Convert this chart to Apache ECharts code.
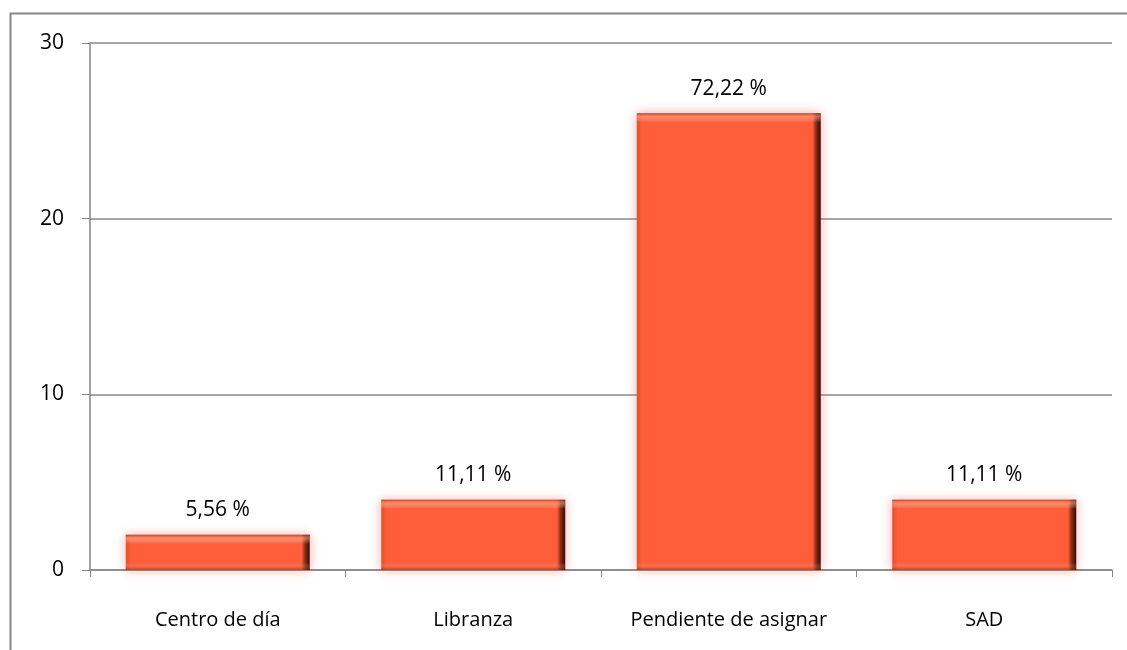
<!DOCTYPE html>
<html>
<head>
<meta charset="utf-8">
<script src="https://cdn.jsdelivr.net/npm/echarts@6/dist/echarts.min.js"></script>
<style>
  html, body { margin: 0; padding: 0; background: #fff; }
  #chart { width: 1127px; height: 650px; }
</style>
</head>
<body>
<div id="chart"></div>
<script>
const categories = ['Centro de día', 'Libranza', 'Pendiente de asignar', 'SAD']
const counts = [2, 4, 26, 4]
const yTicks = [0, 10, 20, 30]

const total = counts.reduce((a, b) => a + b, 0)
const pct = v => (v / total * 100).toFixed(2).replace('.', ',') + ' %'

const chart = echarts.init(document.getElementById('chart'))
const font = '"Open Sans", "Noto Sans", sans-serif'

// rough px per unit, only used to keep the bevel bands a fixed pixel size
const pxPerUnit = 527 / 30
const bevel = v => {
  const h = v * pxPerUnit
  const a = 3 / h, b = 9 / h, c = 1 - 7 / h
  return {
    type: 'linear', x: 0, y: 0, x2: 0, y2: 1,
    colorStops: [
      { offset: 0, color: 'rgba(190, 50, 20, 0.7)' },
      { offset: a, color: 'rgba(255, 170, 130, 0.55)' },
      { offset: b, color: 'rgba(255, 255, 255, 0)' },
      { offset: c, color: 'rgba(255, 255, 255, 0)' },
      { offset: 1, color: 'rgba(110, 30, 10, 0.5)' }
    ]
  }
}

chart.setOption({
  animation: false,
  graphic: [{
    type: 'rect',
    shape: { x: 10.5, y: 13.5, width: 1200, height: 700 },
    style: { fill: 'none', stroke: '#868686', lineWidth: 2 },
    silent: true
  }],
  grid: { left: 90, right: 15, top: 43, bottom: 80 },
  xAxis: {
    type: 'category',
    data: categories,
    axisLine: { lineStyle: { color: '#868686', width: 1.5 } },
    axisTick: { show: true, interval: 0, length: 7, lineStyle: { color: '#868686' } },
    axisLabel: { interval: 0, margin: 40, color: '#000', fontFamily: font, fontSize: 20 }
  },
  yAxis: {
    type: 'value',
    min: yTicks[0],
    max: yTicks[yTicks.length - 1],
    interval: 10,
    axisLine: { show: true, lineStyle: { color: '#868686', width: 1.5 } },
    axisTick: { show: true, length: 8, lineStyle: { color: '#868686' } },
    axisLabel: { margin: 26, color: '#000', fontFamily: font, fontSize: 21 },
    splitLine: { lineStyle: { color: '#8a8a8a', width: 1.5 } }
  },
  series: [
    {
      type: 'bar',
      data: counts,
      barWidth: '72%',
      itemStyle: {
        color: {
          type: 'linear', x: 0, y: 0, x2: 1, y2: 0,
          colorStops: [
            { offset: 0, color: '#e0502c' },
            { offset: 0.03, color: '#ff5e3a' },
            { offset: 0.955, color: '#ff5e3a' },
            { offset: 0.975, color: '#8a2a14' },
            { offset: 1, color: '#2e0e06' }
          ]
        },
        shadowBlur: 10,
        shadowColor: 'rgba(255, 60, 60, 0.45)'
      },
      label: {
        show: true,
        position: 'top',
        distance: 14,
        color: '#000',
        fontFamily: font,
        fontSize: 21,
        formatter: p => pct(p.value)
      }
    },
    {
      type: 'bar',
      data: counts.map(v => ({ value: v, itemStyle: { color: bevel(v) } })),
      barWidth: '72%',
      barGap: '-100%',
      silent: true
    }
  ]
})
</script>
</body>
</html>
